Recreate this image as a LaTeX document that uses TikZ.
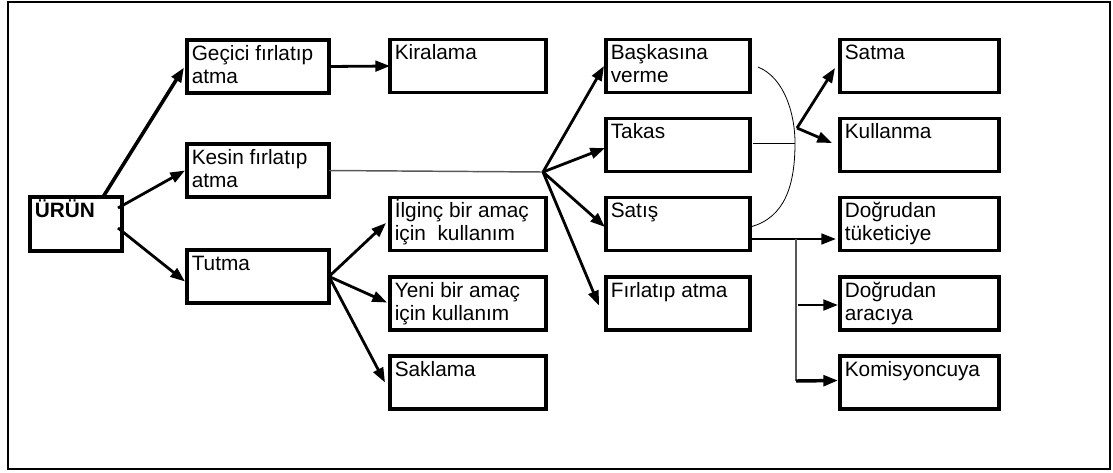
\documentclass[tikz,border=0pt]{standalone}
\usepackage{fontspec}
\setmainfont{Liberation Sans}
\usetikzlibrary{arrows.meta,calc}
\newcommand\bxt[3][39.75pt]{\parbox[c][#1][t]{#2}{\raggedright\leftskip=3.6pt\fontsize{15.6}{17}\selectfont\rule{0pt}{15.3pt}#3}}
\begin{document}
\begin{tikzpicture}[x=0.75pt,y=-0.75pt,
  box/.style={draw, line width=2.6pt, inner sep=0pt, outer sep=0pt},
  arr/.style={line width=2.1pt, -{Triangle[length=11pt,width=8pt]}},
  thinline/.style={line width=1.1pt, black!65},
  curveline/.style={line width=0.6pt, black},
  ]
\useasboundingbox (0,0) rectangle (1113,472);
\draw[line width=1.7pt] (8,2) rectangle (1110,469);

% column 1
\node[box] (urun) at (76,224) {\bxt[40.5pt]{69pt}{\textbf{ÜRÜN}}};
% column 2
\node[box] (gec) at (258,66.5) {\bxt{106.5pt}{Geçici fırlatıp\\atma}};
\node[box] (kes) at (258,170.5) {\bxt{106.5pt}{Kesin fırlatıp\\atma}};
\node[box] (tut) at (258,276.5) {\bxt{106.5pt}{Tutma}};
% column 3
\node[box] (kir) at (468,66) {\bxt{117pt}{Kiralama}};
\node[box] (ilg) at (468,224) {\bxt{117pt}{İlginç bir amaç\\için\ \ kullanım}};
\node[box] (yen) at (468,303.5) {\bxt{117pt}{Yeni bir amaç\\için kullanım}};
\node[box] (sak) at (468,382.5) {\bxt{117pt}{Saklama}};
% column 4
\node[box] (bas) at (678,66) {\bxt{108pt}{Başkasına\\verme}};
\node[box] (tak) at (678,145) {\bxt{108pt}{Takas}};
\node[box] (sat) at (678,224) {\bxt{108pt}{Satış}};
\node[box] (fir) at (678,303.5) {\bxt{108pt}{Fırlatıp atma}};
% column 5
\node[box] (stm) at (919.5,66) {\bxt{119.25pt}{Satma}};
\node[box] (kul) at (919.5,145) {\bxt{119.25pt}{Kullanma}};
\node[box] (dt) at (919.5,224) {\bxt{119.25pt}{Doğrudan\\tüketiciye}};
\node[box] (da) at (919.5,303.5) {\bxt{119.25pt}{Doğrudan\\aracıya}};
\node[box] (kom) at (919.5,382.5) {\bxt{119.25pt}{Komisyoncuya}};

% from ÜRÜN
\draw[arr, line width=2.7pt] ($(urun.north)+(27,0)$) -- ($(gec.west)+(-3,1)$);
\draw[arr] ($(urun.east)+(-4,-16)$) -- ($(kes.west)+(-2,0)$);
\draw[arr] ($(urun.east)+(-4,4)$) -- ($(tut.west)+(-2,5)$);
% Geçici -> Kiralama
\draw[arr] (gec.east) -- (kir.west);
% Kesin -> hub
\coordinate (hub) at (543,172);
\draw[thinline] (kes.east) -- (hub);
\draw[arr] (hub) -- ($(bas.west)+(-2,0)$);
\draw[arr] (hub) -- ($(tak.west)+(-1,3)$);
\draw[arr] (hub) -- ($(sat.west)+(-1,3)$);
\draw[arr] (hub) -- ($(fir.west)+(-7,2)$);
% Tutma fan
\draw[arr] (tut.east) -- ($(ilg.west)+(-4,-1)$);
\draw[arr] (tut.east) -- ($(yen.west)+(-3,-1)$);
\draw[arr] (tut.east) -- ($(sak.west)+(-5,0)$);
% bracket curve
\coordinate (c1) at ($(bas.east)+(8,1)$);
\coordinate (cm) at (795,143);
\coordinate (c3) at ($(sat.east)+(0,3)$);
\draw[curveline] (c1) .. controls (785,78) and (795,115) .. (cm)
  .. controls (795,185) and (785,218) .. (c3);
\draw[curveline] ($(tak.east)+(3,-2)$) -- (cm);
\coordinate (j2) at (797,128);
\draw[arr] (j2) -- ($(stm.west)+(-5,2)$);
\draw[arr] (j2) -- ($(kul.west)+(-8,-2)$);
% Satış distribution
\draw[arr, line width=1.9pt] ($(sat.east)+(0,15)$) -- ($(dt.west)+(-4,15)$);
\coordinate (v1) at (796,239);
\coordinate (v2) at (796,381);
\coordinate (v3) at (798,305);
\draw[thinline] (v1) -- (v2);
\draw[arr] (v3) -- ($(da.west)+(-2,1.5)$);
\draw[arr, line width=2.6pt] (v2) -- ($(kom.west)+(-2,-2)$);
\end{tikzpicture}
\end{document}
